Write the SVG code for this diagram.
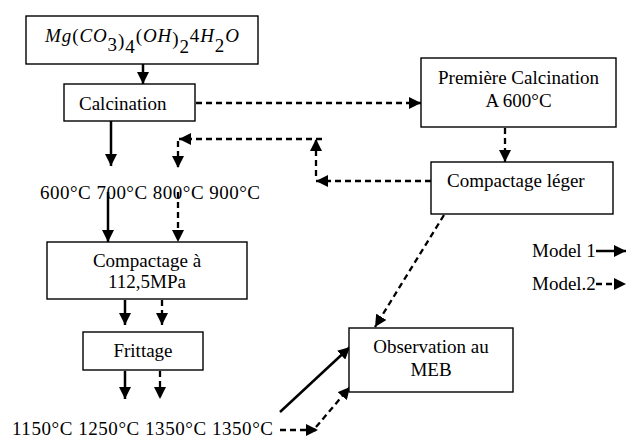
<svg xmlns="http://www.w3.org/2000/svg" width="627" height="439" viewBox="0 0 627 439">
<style>
.box{fill:#fff;stroke:#000;stroke-width:1.4}
.t{font-family:"Liberation Serif","Times New Roman",serif;font-size:19px;fill:#000}
.c{text-anchor:middle}
.i{font-style:italic}
.s{fill:none;stroke:#000;stroke-width:2.5;marker-end:url(#ah)}
.d{fill:none;stroke:#000;stroke-width:2.3;stroke-dasharray:6 4;marker-end:url(#ah)}
</style>
<defs>
<marker id="ah" viewBox="0 0 10 10" refX="10" refY="5" markerUnits="userSpaceOnUse" markerWidth="12" markerHeight="12" orient="auto">
<path d="M0,0 L10,5 L0,10 z" fill="#000"/>
</marker>
</defs>
<rect width="627" height="439" fill="#fff"/>
<g id="connectors">
<line class="s" x1="143" y1="64" x2="143" y2="84"/>
<line class="d" x1="196" y1="103" x2="421" y2="103"/>
<line class="s" x1="111" y1="121" x2="111" y2="166"/>
<line class="d" x1="505" y1="128" x2="505" y2="162"/>
<line class="d" x1="431" y1="181" x2="316" y2="181"/>
<line class="d" x1="316" y1="176" x2="316" y2="139"/>
<line class="d" x1="322" y1="139" x2="179" y2="139"/>
<line class="d" x1="178" y1="141" x2="178" y2="168"/>
<line class="s" x1="108" y1="192" x2="108" y2="242"/>
<line class="d" x1="178" y1="192" x2="178" y2="242"/>
<line class="s" x1="125" y1="300" x2="125" y2="325"/>
<line class="d" x1="162" y1="300" x2="162" y2="325"/>
<line class="s" x1="125" y1="371" x2="125" y2="399"/>
<line class="d" x1="160" y1="371" x2="160" y2="399"/>
<line class="s" x1="280" y1="412" x2="350" y2="347"/>
<line class="d" x1="280" y1="430" x2="318" y2="430"/>
<line class="d" x1="316" y1="427" x2="350" y2="387"/>
<line class="d" x1="444" y1="215" x2="375" y2="327"/>
<line class="s" x1="596" y1="251" x2="626" y2="251"/>
<line class="d" x1="596" y1="284" x2="626" y2="284"/>
</g>
<g id="n-formula">
<rect class="box" x="26" y="16" width="232" height="48"/>
<text class="t" x="45" y="42" textLength="194" lengthAdjust="spacing"><tspan class="i">Mg</tspan>(<tspan class="i">CO</tspan><tspan dy="9">3</tspan><tspan dy="-4">)</tspan><tspan dy="6">4</tspan><tspan dy="-11">(</tspan><tspan class="i">OH</tspan><tspan dy="3">)</tspan><tspan dy="8">2</tspan><tspan dy="-11">4</tspan><tspan class="i">H</tspan><tspan dy="10">2</tspan><tspan class="i" dy="-10">O</tspan></text>
</g>
<g id="n-calcination">
<rect class="box" x="64" y="84" width="131" height="37"/>
<text class="t" x="79" y="110">Calcination</text>
</g>
<g id="n-premiere">
<rect class="box" x="421" y="58" width="195" height="69"/>
<text class="t c" x="518.5" y="84">Première Calcination</text>
<text class="t c" x="518.5" y="107">A 600°C</text>
</g>
<g id="n-compactage-leger">
<rect class="box" x="431" y="162" width="182" height="52"/>
<text class="t" x="447" y="187">Compactage léger</text>
</g>
<g id="n-temps1">
<text class="t" x="40" y="199" textLength="220" lengthAdjust="spacing">600°C 700°C 800°C 900°C</text>
</g>
<g id="n-compactage">
<rect class="box" x="47" y="242" width="200" height="57"/>
<text class="t c" x="147" y="267">Compactage à</text>
<text class="t c" x="147" y="288">112,5MPa</text>
</g>
<g id="n-frittage">
<rect class="box" x="83" y="332" width="120" height="38"/>
<text class="t c" x="143" y="357">Frittage</text>
</g>
<g id="n-temps2">
<text class="t" x="12" y="435" textLength="261" lengthAdjust="spacing">1150°C 1250°C 1350°C 1350°C</text>
</g>
<g id="n-observation">
<rect class="box" x="349" y="328" width="164" height="64"/>
<text class="t c" x="431" y="353">Observation au</text>
<text class="t c" x="431" y="376">MEB</text>
</g>
<g id="legend">
<text class="t" x="532" y="257">Model 1</text>
<text class="t" x="532" y="290">Model.2</text>
</g>
</svg>
